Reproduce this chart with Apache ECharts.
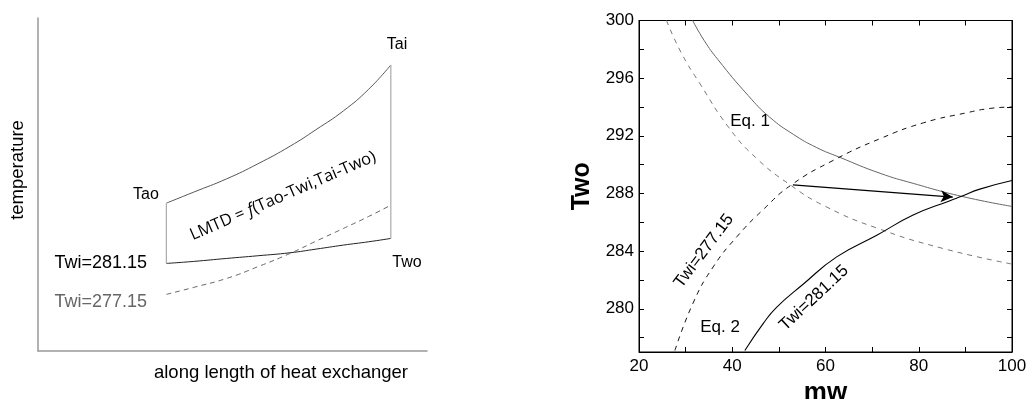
<!DOCTYPE html>
<html>
<head>
<meta charset="utf-8">
<script src="https://cdn.jsdelivr.net/npm/echarts@6/dist/echarts.min.js"></script>
<style>
html,body{margin:0;padding:0;background:#fff;}
#wrap{position:relative;width:1029px;height:399px;background:#fff;}
#left{position:absolute;left:0;top:0;width:560px;height:399px;}
#right{position:absolute;left:560px;top:0;width:469px;height:399px;}
</style>
</head>
<body>
<div id="wrap"><div id="left"></div><div id="right"></div></div>
<script>
// ---- Left schematic (arbitrary units 0..100) ----
const schemX = [33, 40, 48.5, 56.5, 64.8, 71.5, 78.5, 85, 90.7];
const airTemp = [44.4, 47.7, 51.7, 56.2, 61.5, 66.5, 72.1, 78.6, 85.9];        // Tao -> Tai
const waterTemp281 = [26.3, 26.9, 27.8, 28.6, 29.5, 30.6, 31.8, 32.8, 33.8];  // Twi=281.15 -> Two
const waterTemp277 = [17.0, 19.1, 21.8, 25.3, 29.3, 33.0, 36.8, 40.4, 43.8];  // Twi=277.15

// ---- Right plot: Two vs mw ----
const eq1Twi281 = [[31.5,300],[34,298.6],[36.9,297.3],[43.4,294.8],[48,293.3],[53.1,292.1],[58,291.2],[63.1,290.5],[71.7,289.4],[78.8,288.7],[89.2,287.8],[100,287.1]];
const eq1Twi277 = [[25.9,300],[29,297.8],[33.1,295.6],[39.2,292.6],[45,290.5],[52.4,288.6],[60,287.1],[71,285.6],[85,284.2],[100,283.1]];
const eq2Twi277 = [[27.7,277.1],[31.6,280.4],[35.9,282.9],[41,285.0],[46.7,286.9],[52.7,288.6],[61.7,290.3],[71.7,291.8],[81,292.9],[90.3,293.6],[95.3,293.9],[100,294.0]];
const eq2Twi281 = [[42.7,277.1],[46.7,279.0],[49.5,280.1],[55.2,281.7],[62.4,283.6],[71,285.1],[78.8,286.5],[86.7,287.5],[89.2,287.8],[93.1,288.3],[100,288.9]];
const arrowFrom = [53, 288.6];
const arrowTo = [87.3, 287.75];
const yTicks = [278,280,282,284,286,288,290,292,294,296,298,300];
const yLabels = [280,284,288,292,296,300];
const xLabels = [20,40,60,80,100];

const zip = (xs, ys) => xs.map((x, i) => [x, ys[i]]);
const edgeL = [[schemX[0], waterTemp281[0]], [schemX[0], airTemp[0]]];
const last = schemX.length - 1;
const edgeR = [[schemX[last], waterTemp281[last]], [schemX[last], airTemp[last]]];
const FONT = '"Liberation Sans", Arial, Helvetica, sans-serif';
const OFF = 560; // left offset of the right chart

// ================= LEFT CHART =================
const leftChart = echarts.init(document.getElementById('left'));
leftChart.setOption({
  animation: false,
  grid: {left: 38, top: 18, width: 389, height: 333, outerBoundsMode: 'none'},
  xAxis: {type: 'value', min: 0, max: 100,
    axisLine: {show: true, onZero: false, lineStyle: {color: '#999', width: 1.5}}, axisTick: {show: false}, axisLabel: {show: false}, splitLine: {show: false}},
  yAxis: {type: 'value', min: 0, max: 100,
    axisLine: {show: true, onZero: false, lineStyle: {color: '#999', width: 1.5}}, axisTick: {show: false}, axisLabel: {show: false}, splitLine: {show: false}},
  series: [
    {type: 'line', data: zip(schemX, airTemp), smooth: true, symbol: 'none', lineStyle: {color: '#555', width: 1}},
    {type: 'line', data: zip(schemX, waterTemp281), smooth: true, symbol: 'none', lineStyle: {color: '#222', width: 1}},
    {type: 'line', data: zip(schemX, waterTemp277), smooth: true, symbol: 'none', lineStyle: {color: '#666', width: 1, type: [5, 4]}},
    {type: 'line', data: edgeL, symbol: 'none', lineStyle: {color: '#aaa', width: 1.2}},
    {type: 'line', data: edgeR, symbol: 'none', lineStyle: {color: '#aaa', width: 1.2}}
  ],
  graphic: [
    {type: 'text', x: 18, y: 170, rotation: Math.PI / 2,
     style: {text: 'temperature', font: '18.5px ' + FONT, fill: '#000', align: 'center', verticalAlign: 'middle'}},
    {type: 'text', x: 281, y: 373,
     style: {text: 'along length of heat exchanger', font: '18.5px ' + FONT, fill: '#000', align: 'center', verticalAlign: 'middle'}},
    {type: 'text', x: 397, y: 45,
     style: {text: 'Tai', font: '16px ' + FONT, fill: '#000', align: 'center', verticalAlign: 'middle'}},
    {type: 'text', x: 146, y: 195,
     style: {text: 'Tao', font: '16px ' + FONT, fill: '#000', align: 'center', verticalAlign: 'middle'}},
    {type: 'text', x: 407, y: 263,
     style: {text: 'Two', font: '16px ' + FONT, fill: '#000', align: 'center', verticalAlign: 'middle'}},
    {type: 'text', x: 147, y: 263,
     style: {text: 'Twi=281.15', font: '18px ' + FONT, fill: '#000', align: 'right', verticalAlign: 'middle'}},
    {type: 'text', x: 147, y: 302,
     style: {text: 'Twi=277.15', font: '18px ' + FONT, fill: '#666', align: 'right', verticalAlign: 'middle'}},
    {type: 'text', x: 283, y: 196, rotation: 23.5 * Math.PI / 180,
     style: {text: '{n|LMTD = }{i|f}{n|(Tao-Twi,Tai-Two)}', align: 'center', verticalAlign: 'middle',
       rich: {n: {font: '16.5px "Open Sans", sans-serif', fill: '#000'},
              i: {font: 'italic 16.5px "Open Sans", sans-serif', fill: '#000'}}}}
  ]
});

// ================= RIGHT CHART =================
const rightChart = echarts.init(document.getElementById('right'));
const tick = {show: true, inside: true, length: 5};
const line = {show: true, onZero: false, lineStyle: {color: '#000'}};
rightChart.setOption({
  animation: false,
  grid: {left: 639 - OFF, top: 20.5, width: 373, height: 331.5, outerBoundsMode: 'none',
         show: true, borderColor: '#000', borderWidth: 1, backgroundColor: 'transparent'},
  xAxis: [
    {type: 'value', min: 20, max: 100, interval: 10, position: 'bottom',
     name: 'mw', nameLocation: 'middle', nameGap: 22,
     nameTextStyle: {fontFamily: FONT, fontWeight: 'bold', fontSize: 26, color: '#000'},
     axisLine: line, axisTick: tick, splitLine: {show: false},
     axisLabel: {show: true, fontFamily: FONT, fontSize: 17, color: '#000', margin: 6,
       formatter: v => xLabels.includes(v) ? String(v) : ''}},
    {type: 'value', min: 20, max: 100, interval: 10, position: 'top',
     axisLine: line, axisTick: tick, splitLine: {show: false}, axisLabel: {show: false}}
  ],
  yAxis: [
    {type: 'value', min: 277, max: 300, position: 'left',
     name: 'Two', nameLocation: 'middle', nameGap: 44, nameRotate: 90,
     nameTextStyle: {fontFamily: FONT, fontWeight: 'bold', fontSize: 25, color: '#000'},
     axisLine: line, splitLine: {show: false},
     axisTick: {show: true, inside: true, length: 5, customValues: yTicks},
     axisLabel: {show: true, fontFamily: FONT, fontSize: 17, color: '#000', margin: 5, customValues: yLabels}},
    {type: 'value', min: 277, max: 300, position: 'right',
     axisLine: line, splitLine: {show: false},
     axisTick: {show: true, inside: true, length: 5, customValues: yTicks},
     axisLabel: {show: false}}
  ],
  series: [
    {type: 'line', data: eq1Twi281, smooth: true, symbol: 'none', lineStyle: {color: '#666', width: 1}},
    {type: 'line', data: eq1Twi277, smooth: true, symbol: 'none', lineStyle: {color: '#777', width: 1, type: [5, 5]}},
    {type: 'line', data: eq2Twi277, smooth: true, symbol: 'none', lineStyle: {color: '#111', width: 1, type: [5, 5]}},
    {type: 'line', data: eq2Twi281, smooth: true, symbol: 'none', lineStyle: {color: '#000', width: 1.1},
     markLine: {silent: true, symbol: ['none', 'arrow'], symbolSize: [9, 12], label: {show: false},
       lineStyle: {color: '#000', width: 1.2, type: 'solid'},
       data: [[{coord: arrowFrom}, {coord: arrowTo}]]}}
  ],
  graphic: [
    {type: 'text', x: 750 - OFF, y: 121,
     style: {text: 'Eq. 1', font: '17px ' + FONT, fill: '#000', align: 'center', verticalAlign: 'middle'}},
    {type: 'text', x: 720 - OFF, y: 327,
     style: {text: 'Eq. 2', font: '17px ' + FONT, fill: '#000', align: 'center', verticalAlign: 'middle'}},
    {type: 'text', x: 704 - OFF, y: 251, rotation: 53 * Math.PI / 180,
     style: {text: 'Twi=277.15', font: '17px ' + FONT, fill: '#000', align: 'center', verticalAlign: 'middle'}},
    {type: 'text', x: 814 - OFF, y: 298, rotation: 43 * Math.PI / 180,
     style: {text: 'Twi=281.15', font: '17px ' + FONT, fill: '#000', align: 'center', verticalAlign: 'middle'}}
  ]
});
</script>
</body>
</html>
